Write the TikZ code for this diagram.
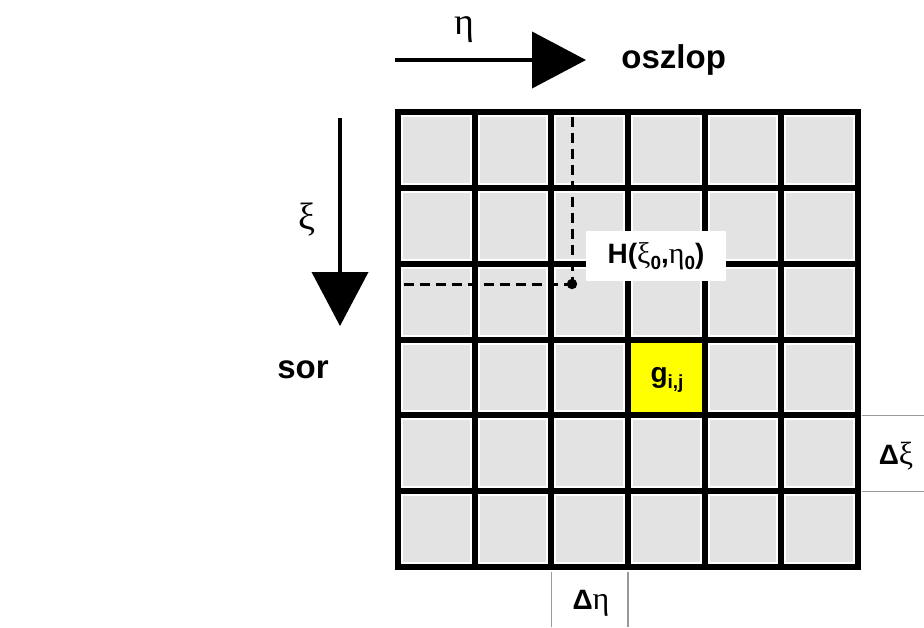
\documentclass[tikz,border=0pt]{standalone}
\usepackage{fontspec}
\setmainfont{Liberation Sans}
\newfontfamily\greekserif{Liberation Serif}
\usetikzlibrary{arrows.meta}
\definecolor{cellgray}{HTML}{E3E3E3}
\definecolor{cellyellow}{HTML}{FFFF00}
\definecolor{tickgray}{HTML}{9A9A9A}
\newcommand\lowidx[1]{\raisebox{-0.45ex}{\fontsize{9.5}{10}\selectfont\bfseries #1}}
\begin{document}
\begin{tikzpicture}[x=0.5pt,y=-0.5pt,
  gridline/.style={line width=3pt, line cap=rect},
  axisarrow/.style={line width=2pt, -{Triangle[length=27pt,width=28pt]}},
  guideline/.style={line width=1.5pt, dash pattern=on 5pt off 3pt},
  tickline/.style={line width=0.6pt, tickgray},
  lbl/.style={font=\bfseries\fontsize{16.5}{19}\selectfont, inner sep=0pt},
  glbl/.style={font=\greekserif\fontsize{19}{22}\selectfont, inner sep=0pt},
  cell/.style={font=\bfseries\fontsize{14}{16}\selectfont, inner sep=0pt}]
\useasboundingbox (0,0) rectangle (924,627);

% cell fills
\foreach \i in {0,...,5}
  \foreach \j in {0,...,5}
    \fill[cellgray] ({398+\i*76.667+5},{112+\j*75.833+5})
      rectangle ({398+(\i+1)*76.667-5},{112+(\j+1)*75.833-5});
\fill[cellyellow] (628,339.5) rectangle (705,415.3);

% grid lines
\foreach \k in {0,...,6} {
  \draw[gridline] ({398+\k*76.667},112) -- ({398+\k*76.667},567);
  \draw[gridline] (398,{112+\k*75.833}) -- (858,{112+\k*75.833});
}

% point H with its label
\node[fill=white, minimum width=70pt, minimum height=25pt, inner sep=0pt,
      font=\bfseries\fontsize{14}{16}\selectfont] (hlabel) at (656,256)
  {H({\greekserif\mdseries\fontsize{15}{16}\selectfont ξ}\lowidx{0},{\greekserif\mdseries\fontsize{15}{16}\selectfont η}\lowidx{0})};
\coordinate (hpt) at (572,284);
\coordinate (htop) at (572,117);
\coordinate (hleft) at (404,284);
\draw[guideline] (htop) -- (hpt);
\draw[guideline] (hleft) -- (hpt);
\fill (hpt) circle (2.6pt);

% cell label
\node[cell] (gij) at (667,380) {g\lowidx{i,j}};

% axis arrows
\coordinate (etastart) at (395,60);
\coordinate (etaend) at (586,60);
\draw[axisarrow] (etastart) -- (etaend);
\node[glbl] (eta) at (464,30) {η};
\node[lbl, anchor=west] (oszlop) at (621,60) {oszlop};

\coordinate (xistart) at (340,118);
\coordinate (xiend) at (340,326);
\draw[axisarrow] (xistart) -- (xiend);
\node[glbl] (xi) at (307,220) {ξ};
\node[lbl] (sor) at (303,370) {sor};

% step sizes
\draw[tickline] (862,{112+4*75.833}) -- (924,{112+4*75.833});
\draw[tickline] (862,{112+5*75.833}) -- (924,{112+5*75.833});
\node[cell] (dxi) at (896,456) {Δ{\greekserif\mdseries\fontsize{16}{18}\selectfont ξ}};
\draw[tickline] ({398+2*76.667},572) -- ({398+2*76.667},627);
\draw[tickline] ({398+3*76.667},572) -- ({398+3*76.667},627);
\node[cell] (deta) at (591,603) {Δ{\greekserif\mdseries\fontsize{16}{18}\selectfont η}};
\end{tikzpicture}
\end{document}
